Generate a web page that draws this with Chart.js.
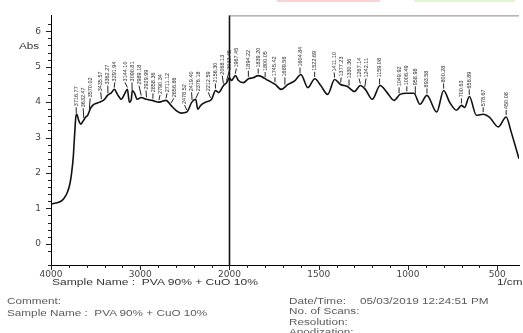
<!DOCTYPE html>
<html>
<head>
<meta charset="utf-8">
<script src="https://cdn.jsdelivr.net/npm/chart.js@4.4.0/dist/chart.umd.min.js"></script>
<style>
  html, body { margin: 0; padding: 0; background: #fff; overflow: hidden; }
  #wrap { position: relative; width: 523px; height: 333px; }
  #chart { position: absolute; left: 0; top: 0; }
  .t { position: absolute; font-family: "Liberation Sans", Arial, sans-serif; font-size: 8.5px; line-height: 10px;
       color: #5a5a5a; white-space: pre; transform: scaleX(1.38); transform-origin: 0 50%; }
  .bar { position: absolute; top: 0; height: 2px; }
</style>
</head>
<body>
<div id="wrap">
  <canvas id="chart" width="523" height="333"></canvas>
  <div class="bar" style="left:277px;width:103px;background:#fbd3d3;"></div>
  <div class="bar" style="left:414px;width:101px;background:#e2f4d4;"></div>
  <div class="t" style="left:19px;top:41px;color:#333;">Abs</div>
  <div class="t" style="left:52px;top:277px;color:#333;font-size:9px;transform:scaleX(1.34);">Sample Name :  PVA 90% + CuO 10%</div>
  <div class="t" style="left:497px;top:277px;color:#333;">1/cm</div>
  <div class="t" style="left:7px;top:296px;">Comment:</div>
  <div class="t" style="left:7px;top:308px;">Sample Name :  PVA 90% + CuO 10%</div>
  <div class="t" style="left:289px;top:296px;">Date/Time:</div>
  <div class="t" style="left:360px;top:296px;">05/03/2019 12:24:51 PM</div>
  <div class="t" style="left:289px;top:306px;">No. of Scans:</div>
  <div class="t" style="left:289px;top:317px;">Resolution:</div>
  <div class="t" style="left:289px;top:327px;">Apodization:</div>
</div>
<script>
// spectrum (1/cm, Abs)
const wavenumbers = [4000, 3944, 3889, 3856, 3822, 3789, 3767, 3750, 3739, 3730, 3722, 3711, 3689, 3667, 3644, 3611, 3589,
  3556, 3533, 3489, 3456, 3400, 3367, 3322, 3289, 3256, 3211, 3178, 3144, 3122, 3100, 3089, 3067, 3033, 2989, 2933,
  2867, 2789, 2711, 2656, 2600, 2544, 2478, 2422, 2378, 2356, 2322, 2267, 2200, 2156, 2122, 2067, 2033, 2000,
  1989, 1967, 1950, 1922, 1894, 1867, 1839, 1783, 1744, 1711, 1672, 1633, 1600, 1561, 1522, 1489, 1450, 1411,
  1378, 1339, 1300, 1267, 1239, 1200, 1156, 1117, 1078, 1044, 1006, 967, 933, 894, 839, 800, 767, 728, 700, 683,
  656, 617, 578, 544, 494, 450, 422, 394, 378];
const absorbance = [1.12, 1.15, 1.20, 1.28, 1.42, 1.68, 2.04, 2.46, 2.93, 3.30, 3.58, 3.66, 3.48, 3.38, 3.45, 3.58, 3.63,
  3.83, 3.91, 3.97, 4.00, 4.08, 4.19, 4.27, 4.36, 4.22, 4.08, 4.22, 4.36, 4.00, 4.08, 4.33, 4.27, 4.08, 4.13, 4.08,
  4.05, 4.00, 4.05, 3.91, 3.77, 3.69, 3.72, 4.00, 4.08, 3.80, 3.91, 4.00, 4.08, 4.33, 4.27, 4.47, 4.55, 4.69,
  4.61, 4.75, 4.61, 4.55, 4.66, 4.69, 4.75, 4.61, 4.50, 4.36, 4.50, 4.61, 4.78, 4.41, 4.66, 4.47, 4.22, 4.64,
  4.50, 4.44, 4.30, 4.47, 4.36, 4.08, 4.47, 4.27, 4.05, 4.22, 4.25, 4.25, 3.94, 4.19, 3.72, 4.33, 4.00, 3.77, 3.91, 3.85,
  4.16, 3.63, 3.66, 3.58, 3.30, 3.58, 3.16, 2.68, 2.40];

// peak picks printed above the curve
const peakLabels = ['3716.77', '3632.47', '3570.02', '3435.57', '3362.27', '3291.94', '3144.10', '3090.81', '2989.18',
  '2929.99', '2858.36', '2790.34', '2711.12', '2656.86', '2478.52', '2419.40', '2376.18', '2212.59', '2156.30',
  '2068.13', '2032.45', '1967.45', '1894.22', '1839.20', '1800.05', '1745.42', '1689.56', '1604.84', '1522.69',
  '1411.10', '1377.23', '1330.36', '1267.14', '1242.11', '1159.08', '1049.92', '1006.49', '958.98', '893.58',
  '800.28', '700.63', '656.89', '578.67', '450.08'];

// axis: 4000-2000 at half the scale of 2000-400
const toPos = wn => wn >= 2000 ? (4000 - wn) / 2 : 3000 - wn;
const toWn = p => p <= 1000 ? 4000 - 2 * p : 3000 - p;

const absAt = wn => {
  for (let i = 1; i < wavenumbers.length; i++) {
    if (wn >= wavenumbers[i]) {
      const t = (wavenumbers[i - 1] - wn) / (wavenumbers[i - 1] - wavenumbers[i]);
      return absorbance[i - 1] + t * (absorbance[i] - absorbance[i - 1]);
    }
  }
  return absorbance[absorbance.length - 1];
};

const isWhole = (v, step) => Math.abs(v / step - Math.round(v / step)) < 1e-6;

const axisMarks = {
  id: 'axisMarks',
  afterDraw(chart) {
    const {ctx, chartArea: a, scales: {x, y}} = chart;
    ctx.save();
    ctx.strokeStyle = '#222';
    ctx.lineWidth = 1;
    ctx.beginPath();
    x.ticks.forEach(t => {
      if (!isWhole(t.value, 100)) return;
      const px = Math.round(x.getPixelForValue(t.value)) + 0.5;
      ctx.moveTo(px, a.bottom);
      ctx.lineTo(px, a.bottom + (isWhole(t.value, 500) ? 5 : 3));
    });
    y.ticks.forEach(t => {
      if (!isWhole(t.value, 0.2)) return;
      const py = Math.round(y.getPixelForValue(t.value)) + 0.5;
      ctx.moveTo(a.left - (isWhole(t.value, 1) ? 5 : 3), py);
      ctx.lineTo(a.left, py);
    });
    ctx.stroke();

    const xd = x.getPixelForValue(toPos(2000));
    ctx.strokeStyle = '#111';
    ctx.lineWidth = 1.6;
    ctx.beginPath();
    ctx.moveTo(xd, a.top);
    ctx.lineTo(xd, a.bottom);
    ctx.stroke();

    ctx.strokeStyle = '#888';
    ctx.lineWidth = 1;
    ctx.beginPath();
    ctx.moveTo(xd, a.top + 0.5);
    ctx.lineTo(a.right, a.top + 0.5);
    ctx.stroke();
    ctx.restore();
  }
};

const peakMarks = {
  id: 'peakMarks',
  afterDatasetsDraw(chart) {
    const {ctx, scales: {x, y}} = chart;
    const items = peakLabels.map(s => {
      const wn = parseFloat(s);
      const px = x.getPixelForValue(toPos(wn));
      return {s, px, py: y.getPixelForValue(absAt(wn)), lx: px};
    });
    for (let k = 0; k < 80; k++) {
      for (let i = 1; i < items.length; i++) {
        const d = items[i].lx - items[i - 1].lx;
        if (d < 7) {
          items[i - 1].lx -= (7 - d) / 2;
          items[i].lx += (7 - d) / 2;
        }
      }
    }
    ctx.save();
    ctx.strokeStyle = '#222';
    ctx.fillStyle = '#2a2a2a';
    ctx.lineWidth = 1;
    ctx.font = '5.5px "Liberation Sans", Arial, sans-serif';
    items.forEach(it => {
      let top = it.py;
      wavenumbers.forEach((wn, j) => {
        const qx = x.getPixelForValue(toPos(wn));
        if (Math.abs(qx - it.lx) < 6 || Math.abs(qx - it.px) < 3) {
          top = Math.min(top, y.getPixelForValue(absorbance[j]));
        }
      });
      const bottom = top - 8;
      ctx.beginPath();
      ctx.moveTo(it.px, it.py - 2);
      ctx.lineTo(it.lx, bottom + 1);
      ctx.stroke();
      ctx.save();
      ctx.translate(it.lx, bottom);
      ctx.rotate(-Math.PI / 2);
      ctx.textAlign = 'left';
      ctx.textBaseline = 'middle';
      ctx.fillText(it.s, 0, 0);
      ctx.restore();
    });
    ctx.restore();
  }
};

const points = wavenumbers.map((wn, i) => ({x: toPos(wn), y: absorbance[i]}));

const chart = new Chart(document.getElementById('chart'), {
  type: 'line',
  data: {
    datasets: [{
      data: points,
      borderColor: '#111',
      borderWidth: 1.6,
      pointRadius: 0,
      cubicInterpolationMode: 'monotone',
      fill: false
    }]
  },
  options: {
    responsive: false,
    animation: false,
    layout: { padding: { top: 12, right: 0, bottom: 0, left: 0 } },
    plugins: {
      legend: { display: false },
      tooltip: { enabled: false }
    },
    scales: {
      x: {
        type: 'linear',
        min: 0,
        max: 2622,
        afterFit: s => { s.height = 68; },
        border: { color: '#000', width: 1 },
        grid: { display: false, drawTicks: false },
        ticks: {
          stepSize: 100,
          autoSkip: false,
          maxRotation: 0,
          padding: 4,
          color: '#444',
          font: { family: 'DejaVu Sans', size: 9 },
          callback: v => isWhole(v, 500) ? String(toWn(Math.round(v))) : ''
        }
      },
      y: {
        min: -0.6,
        max: 6.45,
        afterFit: s => { s.width = 51; },
        border: { color: '#000', width: 1 },
        grid: { display: false, drawTicks: false },
        ticks: {
          stepSize: 0.2,
          autoSkip: false,
          padding: 10,
          color: '#444',
          font: { family: 'DejaVu Sans', size: 9 },
          callback: v => isWhole(v, 1) ? String(Math.round(v)) : ''
        }
      }
    }
  },
  plugins: [axisMarks, peakMarks]
});
</script>
</body>
</html>
